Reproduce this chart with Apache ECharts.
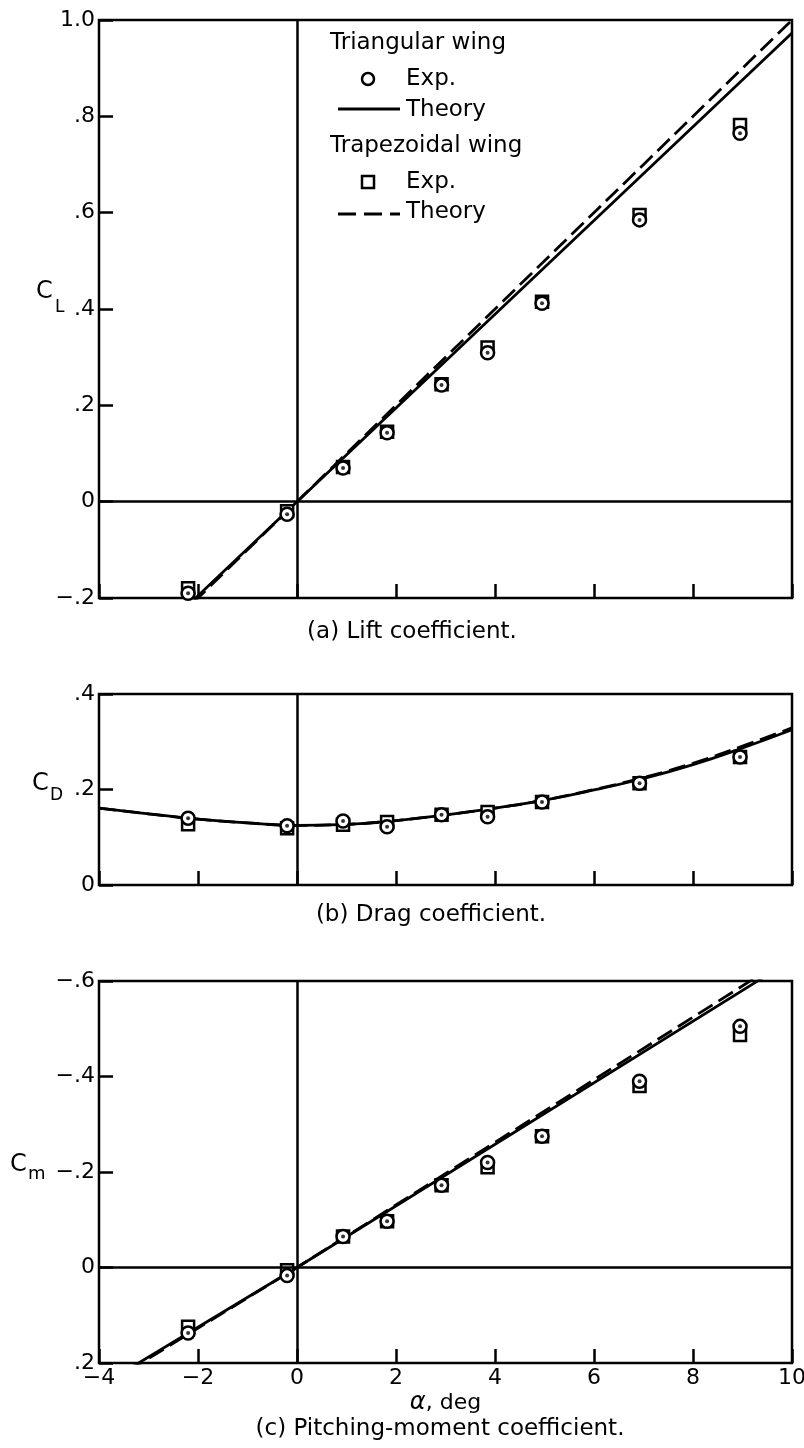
<!DOCTYPE html>
<html>
<head>
<meta charset="utf-8">
<script src="https://cdn.jsdelivr.net/npm/echarts@6/dist/echarts.min.js"></script>
<style>
  html, body { margin: 0; padding: 0; background: #fff; }
  #chart { width: 804px; height: 1448px; }
</style>
</head>
<body>
<div id="chart"></div>
<script>
// Angle of attack of the test points, deg
const alphaExp = [-2.2, -0.2, 0.93, 1.82, 2.92, 3.85, 4.95, 6.92, 8.95]

// (a) Lift coefficient
const clTriExp = [-0.19, -0.026, 0.07, 0.143, 0.242, 0.309, 0.412, 0.585, 0.765]
const clTrapExp = [-0.18, -0.02, 0.072, 0.145, 0.244, 0.32, 0.415, 0.595, 0.782]
const alphaLiftTheory = [-2.1, 0, 10]
const clTriTheory = [-0.205, 0, 0.973]
const clTrapTheory = [-0.21, 0, 1.0]

// (b) Drag coefficient
const cdTriExp = [0.140, 0.124, 0.134, 0.122, 0.147, 0.143, 0.174, 0.213, 0.268]
const cdTrapExp = [0.127, 0.119, 0.126, 0.132, 0.147, 0.153, 0.174, 0.213, 0.268]
const alphaDragTheory = [-4, -3, -2, -1, 0, 1, 2, 3, 4, 5, 6, 7, 8, 9, 10]
const cdTriTheory = [0.161, 0.149, 0.138, 0.130, 0.125, 0.127, 0.135, 0.147, 0.161, 0.178, 0.199, 0.223, 0.252, 0.287, 0.325]
const cdTrapTheory = [0.161, 0.149, 0.138, 0.130, 0.125, 0.127, 0.135, 0.147, 0.161, 0.178, 0.200, 0.225, 0.255, 0.291, 0.329]

// (c) Pitching-moment coefficient
const cmTriExp = [0.137, 0.017, -0.065, -0.097, -0.172, -0.22, -0.275, -0.39, -0.505]
const cmTrapExp = [0.124, 0.006, -0.065, -0.097, -0.172, -0.21, -0.275, -0.38, -0.487]
const alphaPitchTheory = [-3.4, 0, 9.4]
const cmTriTheory = [0.2125, 0, -0.606]
const cmTrapTheory = [0.216, 0, -0.616]

const xTicks = { min: -4, max: 10, interval: 2 }

const FONT = 'DejaVu Sans'
const BLACK = '#000'

const pairs = (xs, ys) => xs.map((x, i) => [x, ys[i]])

// tick labels look like ".2", "-.4", "1.0"
function fmtCoef(v) {
    if (Math.abs(v) < 1e-9) return '0'
    if (Math.abs(v - 1) < 1e-9) return '1.0'
    const s = Math.abs(v).toFixed(1).replace(/^0/, '')
    return (v < 0 ? '\u2212' : '') + s
}
function fmtAlpha(v) {
    return v < 0 ? '\u2212' + Math.abs(v) : String(v)
}

const chart = echarts.init(document.getElementById('chart'), null, { renderer: 'canvas' })

// fixed frames; labels may run to the page edge
const grids = [
    { left: 99, right: 12, top: 20, height: 578 },
    { left: 99, right: 12, top: 694, height: 191 },
    { left: 99, right: 12, top: 981, height: 382 }
].map(g => Object.assign(g, {
    show: true,
    borderColor: BLACK,
    borderWidth: 2.5,
    backgroundColor: 'transparent',
    containLabel: false,
    outerBoundsMode: 'none'
}))

const tickStyle = { show: true, inside: true, length: 14, lineStyle: { color: BLACK, width: 2.5 } }

// axes sit on the frame, not on the zero lines
const xAxes = [0, 1, 2].map(i => ({
    type: 'value',
    gridIndex: i,
    position: 'bottom',
    min: xTicks.min,
    max: xTicks.max,
    interval: xTicks.interval,
    axisLine: { show: false, onZero: false },
    axisTick: tickStyle,
    splitLine: { show: false },
    axisLabel: {
        show: i === 2,
        formatter: fmtAlpha,
        color: BLACK,
        fontFamily: FONT,
        fontSize: 22,
        margin: 4
    },
    name: i === 2 ? '{a|\u03b1}, deg' : '',
    nameLocation: 'middle',
    nameGap: 28,
    nameTextStyle: {
        color: BLACK,
        fontFamily: FONT,
        fontSize: 22,
        rich: { a: { fontFamily: FONT, fontSize: 24, fontStyle: 'italic', color: BLACK } }
    }
}))

const yLabel = { color: BLACK, fontFamily: FONT, fontSize: 22, margin: 4, formatter: fmtCoef }
const yAxes = [
    { gridIndex: 0, min: -0.2, max: 1.0, interval: 0.2 },
    { gridIndex: 1, min: 0, max: 0.4, interval: 0.2 },
    { gridIndex: 2, min: -0.6, max: 0.2, interval: 0.2, inverse: true }
].map(a => Object.assign(a, {
    type: 'value',
    position: 'left',
    axisLine: { show: false, onZero: false },
    axisTick: tickStyle,
    splitLine: { show: false },
    axisLabel: yLabel
}))

function zeroLines(withHorizontal) {
    const data = [{ xAxis: 0 }]
    if (withHorizontal) data.push({ yAxis: 0 })
    return {
        silent: true,
        symbol: ['none', 'none'],
        label: { show: false },
        lineStyle: { color: BLACK, width: 2.5, type: 'solid' },
        data: data
    }
}

function theory(name, idx, xs, ys, dashed, smooth, zero) {
    const s = {
        name: name,
        type: 'line',
        xAxisIndex: idx,
        yAxisIndex: idx,
        data: pairs(xs, ys),
        smooth: smooth,
        symbol: 'none',
        z: 2,
        lineStyle: { color: BLACK, width: 2.8, type: dashed ? [17, 7] : 'solid' }
    }
    if (zero !== undefined) s.markLine = zeroLines(zero)
    return s
}

function points(name, idx, xs, ys, shape, z) {
    return {
        name: name,
        type: 'scatter',
        xAxisIndex: idx,
        yAxisIndex: idx,
        data: pairs(xs, ys),
        symbol: shape,
        symbolSize: shape === 'rect' ? 12 : 13,
        z: z,
        itemStyle: { color: '#fff', borderColor: BLACK, borderWidth: 2.5, opacity: 1 }
    }
}

function dots(idx, xs, ys) {
    return {
        type: 'scatter',
        xAxisIndex: idx,
        yAxisIndex: idx,
        data: pairs(xs, ys),
        symbol: 'circle',
        symbolSize: 4,
        z: 6,
        itemStyle: { color: BLACK }
    }
}

const panels = [
    [alphaLiftTheory, clTriTheory, clTrapTheory, clTriExp, clTrapExp, false, true],
    [alphaDragTheory, cdTriTheory, cdTrapTheory, cdTriExp, cdTrapExp, true, false],
    [alphaPitchTheory, cmTriTheory, cmTrapTheory, cmTriExp, cmTrapExp, false, true]
]

const series = []
panels.forEach(([ax, triTh, trapTh, triExp, trapExp, smooth, hZero], i) => {
    series.push(theory('Triangular theory', i, ax, triTh, false, smooth, hZero))
    series.push(theory('Trapezoidal theory', i, ax, trapTh, true, smooth))
    series.push(points('Trapezoidal exp.', i, alphaExp, trapExp, 'rect', 4))
    series.push(points('Triangular exp.', i, alphaExp, triExp, 'circle', 5))
    series.push(dots(i, alphaExp, triExp))
})

const txt = (x, y, text, size, align) => ({
    type: 'text', x: x, y: y, z: 10,
    style: { text: text, fill: BLACK, font: (size || 23) + 'px "' + FONT + '"', align: align || 'left', verticalAlign: 'middle' }
})

const graphics = [
    // legend
    txt(330, 43, 'Triangular wing'),
    { type: 'circle', z: 10, shape: { cx: 368, cy: 79, r: 6 }, style: { fill: 'none', stroke: BLACK, lineWidth: 2.5 } },
    txt(406, 79, 'Exp.'),
    { type: 'line', z: 10, shape: { x1: 338, y1: 109, x2: 400, y2: 109 }, style: { stroke: BLACK, lineWidth: 2.8 } },
    txt(406, 110, 'Theory'),
    txt(330, 146, 'Trapezoidal wing'),
    { type: 'rect', z: 10, shape: { x: 362, y: 176, width: 12, height: 12 }, style: { fill: 'none', stroke: BLACK, lineWidth: 2.5 } },
    txt(406, 182, 'Exp.'),
    { type: 'line', z: 10, shape: { x1: 338, y1: 214, x2: 400, y2: 214 }, style: { stroke: BLACK, lineWidth: 2.8, lineDash: [18, 8] } },
    txt(406, 212, 'Theory'),
    // axis titles
    txt(36, 292, 'C', 24), txt(55, 308, 'L', 17),
    txt(32, 784, 'C', 24), txt(50, 796, 'D', 17),
    txt(10, 1165, 'C', 24), txt(28, 1174, 'm', 18),
    // captions
    txt(412, 632, '(a) Lift coefficient.', 23, 'center'),
    txt(431, 915, '(b) Drag coefficient.', 23, 'center'),
    txt(440, 1429, '(c) Pitching-moment coefficient.', 23, 'center')
]

chart.setOption({
    backgroundColor: '#fff',
    animation: false,
    textStyle: { fontFamily: FONT, color: BLACK },
    grid: grids,
    xAxis: xAxes,
    yAxis: yAxes,
    series: series,
    graphic: graphics
})
</script>
</body>
</html>
